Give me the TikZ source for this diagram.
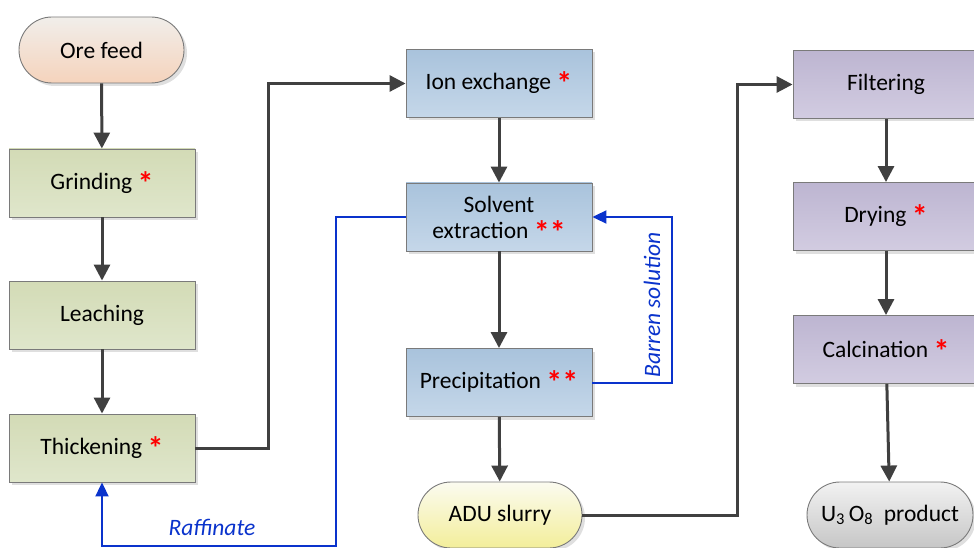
\documentclass[tikz,border=0pt]{standalone}
\usepackage{fontspec}
\setmainfont{Carlito}
\usetikzlibrary{arrows.meta,shadows,positioning}
\definecolor{arr}{HTML}{404040}
\definecolor{bord}{HTML}{7A7A7A}
\definecolor{fb}{HTML}{0A33CC}
\definecolor{grT}{HTML}{D3DBB6}
\definecolor{grB}{HTML}{DFE6CB}
\definecolor{blT}{HTML}{A9C3DC}
\definecolor{blB}{HTML}{C5D7E9}
\definecolor{puT}{HTML}{BDB5D1}
\definecolor{puB}{HTML}{D2CCE1}
\definecolor{oreT}{HTML}{F1EEEA}
\definecolor{oreB}{HTML}{F5D3BC}
\definecolor{aduT}{HTML}{FBFBF0}
\definecolor{aduB}{HTML}{F3EE9A}
\definecolor{uT}{HTML}{F2F2F2}
\definecolor{uB}{HTML}{C6C6C6}
\newcommand{\rast}{\textcolor{red}{\smash{\raisebox{-5pt}{\fontsize{32}{32}\selectfont\bfseries *}}}}
\begin{document}
\begin{tikzpicture}[x=1pt,y=-1pt,
  every node/.style={font=\fontsize{23.5}{26}\selectfont},
  base/.style={draw=bord, line width=0.9pt, minimum width=186pt, minimum height=68pt, align=center,
    drop shadow={shadow xshift=3pt, shadow yshift=-3pt, fill=black!18, opacity=0.7}},
  pill/.style={base, rounded corners=33pt, minimum width=165pt, minimum height=66pt},
  greenbox/.style={base, top color=grT, bottom color=grB},
  bluebox/.style={base, top color=blT, bottom color=blB},
  purpbox/.style={base, top color=puT, bottom color=puB},
  flow/.style={draw=arr, line width=3pt, -{Triangle[length=16pt,width=16pt]}},
  fback/.style={draw=fb, line width=2pt, -{Triangle[length=14pt,width=13pt]}},
  lab/.style={text=fb, font=\fontsize{23.5}{26}\selectfont\itshape}
]
\useasboundingbox (0,0) rectangle (974,548);

\node[pill, top color=oreT, bottom color=oreB] (ore) at (101.5,50) {Ore feed};
\node[greenbox] (grind) at (102,183) {Grinding \rast};
\node[greenbox] (leach) at (102,315) {Leaching};
\node[greenbox] (thick) at (102,448) {Thickening \rast};

\node[bluebox] (ion) at (499,83.5) {Ion exchange \rast};
\node[bluebox] (solv) at (499,217) {Solvent\\extraction \rast\rast};
\node[bluebox] (prec) at (499,382.5) {Precipitation \rast\rast};
\node[pill, top color=aduT, bottom color=aduB, minimum width=164pt] (adu) at (500,515) {ADU slurry};

\node[purpbox] (filt) at (886,84.5) {Filtering};
\node[purpbox] (dry) at (886,216.5) {Drying \rast};
\node[purpbox] (calc) at (886,349.5) {Calcination \rast};
\node[pill, top color=uT, bottom color=uB, minimum width=166pt] (u3o8) at (890,515) {U\textsubscript{3}\,O\textsubscript{8}\ \ product};

\draw[flow] (ore) -- (grind);
\draw[flow] (grind) -- (leach);
\draw[flow] (leach) -- (thick);
\draw[flow] (thick.east) -- ([xshift=73pt]thick.east) |- (ion.west);
\draw[flow] (ion) -- (solv);
\draw[flow] (solv) -- (prec);
\draw[flow] (prec) -- (adu);
\draw[flow] (adu.east) -- ([xshift=155pt]adu.east) |- (filt.west);
\draw[flow] (filt) -- (dry);
\draw[flow] (dry) -- (calc);
\draw[flow] (calc) -- (u3o8);

\coordinate (rb) at (336,546);
\coordinate (bb) at (672,382.5);
\draw[fback] (solv.west) -| (rb) -| (thick.south);
\draw[fback] (prec.east) -- (bb) |- (solv.east);

\node[lab] (raff) at (212,527) {Raffinate};
\node[lab, rotate=90] (barren) at (652,305) {Barren solution};
\end{tikzpicture}
\end{document}
